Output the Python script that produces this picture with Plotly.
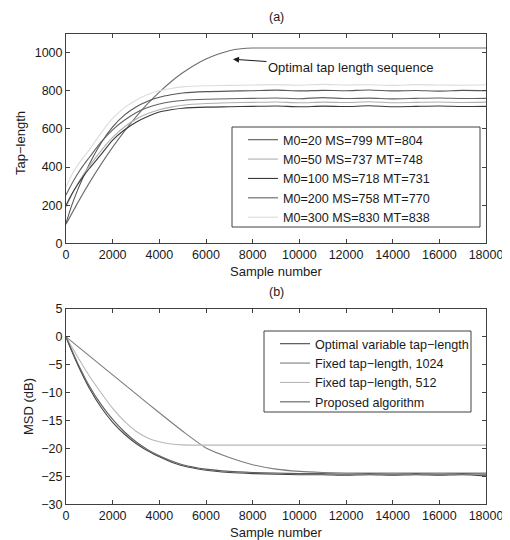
import plotly.graph_objects as go

# ---------------- Panel (a) data ----------------
t_a = [0, 250, 500, 750, 1000, 1500, 2000, 2500, 3000, 3500, 4000, 4500, 5000,
       6000, 7000, 8000, 9000, 10000, 11000, 12000, 13000, 14000, 15000, 16000, 17000, 18000]
m0_20 = [105, 200, 280, 350, 415, 525, 610, 672, 715, 745, 766, 779, 788,
         795, 798, 800, 803, 799, 802, 800, 804, 799, 801, 798, 802, 800]
m0_50 = [190, 255, 312, 362, 405, 485, 555, 610, 650, 680, 700, 714, 724,
         733, 737, 739, 741, 737, 740, 738, 742, 737, 739, 741, 738, 740]
m0_100 = [200, 258, 308, 352, 392, 465, 541, 594, 635, 665, 688, 700, 708,
          714, 716, 718, 720, 716, 719, 717, 721, 716, 718, 720, 717, 718]
m0_200 = [253, 312, 365, 410, 450, 530, 595, 645, 685, 712, 730, 742, 749,
          755, 758, 760, 762, 758, 764, 759, 761, 757, 760, 762, 759, 760]
m0_300 = [297, 360, 410, 452, 490, 578, 655, 710, 750, 780, 800, 812, 820,
          826, 828, 830, 832, 829, 833, 830, 831, 828, 832, 830, 829, 831]
t_opt = [0, 500, 1000, 1500, 2000, 2500, 3000, 3500, 4000, 4500, 5000, 5500,
         6000, 6500, 7000, 7500, 8000, 18000]
opt_seq = [100, 212, 317, 414, 504, 587, 663, 732, 793, 847, 894, 934,
           966, 991, 1010, 1020, 1024, 1024]
names_a = ["M0=20 MS=799 MT=804", "M0=50 MS=737 MT=748", "M0=100 MS=718 MT=731",
           "M0=200 MS=758 MT=770", "M0=300 MS=830 MT=838"]

# ---------------- Panel (b) data ----------------
t_b = [0, 250, 500, 1000, 1500, 2000, 2500, 3000, 3500, 4000, 4500, 5000, 6000,
       7000, 8000, 9000, 10000, 11000, 12000, 13000, 14000, 15000, 16000, 17000, 18000]
msd_opt = [0, -2.6, -5.0, -9.2, -12.6, -15.3, -17.4, -19.1, -20.4, -21.5, -22.4, -23.1, -23.9,
           -24.3, -24.5, -24.6, -24.7, -24.7, -24.8, -24.7, -24.8, -24.7, -24.8, -24.7, -24.9]
msd_512 = [0, -1.8, -3.6, -7.0, -10.0, -12.8, -15.1, -16.9, -18.1, -18.8, -19.2, -19.35, -19.4,
           -19.4, -19.4, -19.4, -19.4, -19.4, -19.4, -19.4, -19.4, -19.4, -19.4, -19.4, -19.4]
msd_prop = [0, -2.4, -4.7, -8.8, -12.1, -14.8, -17.0, -18.8, -20.2, -21.3, -22.2, -22.9, -23.7,
            -24.1, -24.3, -24.4, -24.5, -24.5, -24.6, -24.5, -24.6, -24.5, -24.6, -24.5, -24.6]
t_f = [0, 1000, 2000, 3000, 4000, 5000, 6000, 7000, 8000, 9000, 10000, 11000, 12000,
       13000, 14000, 15000, 16000, 17000, 18000]
msd_1024 = [0, -3.4, -6.8, -10.2, -13.6, -16.9, -19.9, -21.6, -22.9, -23.7, -24.1, -24.3, -24.4,
            -24.4, -24.4, -24.4, -24.4, -24.4, -24.4]
names_b = ["Optimal variable tap−length", "Fixed tap−length, 1024",
           "Fixed tap−length, 512", "Proposed algorithm"]
x_ticks = list(range(0, 18001, 2000))

W, H = 510, 540
OFF = 8  # page body margin offset
def px(x): return (x - OFF) / W
def py(y): return 1 - (y - OFF) / H

FONT = "Liberation Sans, Arial, sans-serif"
fig = go.Figure()

# panel (a)
fig.add_trace(go.Scatter(x=t_opt, y=opt_seq, mode="lines", showlegend=False,
                         line=dict(color="#6e6e6e", width=1.1, shape="spline", smoothing=0.5),
                         xaxis="x", yaxis="y"))
cols_a = ["#575757", "#b0b0b0", "#3a3a3a", "#626262", "#dcdcdc"]
for vals, nm, c in zip([m0_20, m0_50, m0_100, m0_200, m0_300], names_a, cols_a):
    fig.add_trace(go.Scatter(x=t_a, y=vals, mode="lines", name=nm, legend="legend",
                             line=dict(color=c, width=1.1, shape="spline", smoothing=0.6),
                             xaxis="x", yaxis="y"))

# panel (b)
cols_b = ["#474747", "#7c7c7c", "#b8b8b8", "#5e5e5e"]
series_b = [(t_b, msd_opt), (t_f, msd_1024), (t_b, msd_512), (t_b, msd_prop)]
for (tx, vals), nm, c in zip(series_b, names_b, cols_b):
    fig.add_trace(go.Scatter(x=tx, y=vals, mode="lines", name=nm, legend="legend2",
                             line=dict(color=c, width=1.1, shape="spline", smoothing=0.6),
                             xaxis="x2", yaxis="y2"))

axis_common = dict(showline=True, linecolor="#404040", linewidth=1, mirror="ticks",
                   ticks="inside", ticklen=4, tickcolor="#404040", showgrid=False,
                   zeroline=False, automargin=False,
                   tickfont=dict(size=12.5, color="#1a1a1a", family=FONT))
xdom = [px(66), px(486)]

def label(text, x, y, size=12.5, angle=0):
    return dict(text=text, xref="paper", yref="paper", x=px(x), y=py(y), showarrow=False,
                xanchor="center", yanchor="middle", textangle=angle, font=dict(size=size))

fig.update_layout(
    width=W, height=H, margin=dict(l=0, r=0, t=0, b=0, autoexpand=False),
    paper_bgcolor="white", plot_bgcolor="white",
    font=dict(family=FONT, color="#1a1a1a"),
    xaxis=dict(domain=xdom, range=[0, 18000], tickvals=x_ticks,
               ticktext=[str(v) for v in x_ticks], anchor="y", **axis_common),
    yaxis=dict(domain=[py(243.3), py(33.5)], range=[0, 1100], tickvals=list(range(0, 1001, 200)),
               anchor="x", **axis_common),
    xaxis2=dict(domain=xdom, range=[0, 18000], tickvals=x_ticks,
                ticktext=[str(v) for v in x_ticks], anchor="y2", **axis_common),
    yaxis2=dict(domain=[py(504.3), py(309)], range=[-30, 5], tickvals=list(range(-30, 6, 5)),
                anchor="x2", **axis_common),
    legend=dict(x=px(243), y=py(125), xanchor="left", yanchor="top",
                bgcolor="rgba(0,0,0,0)", borderwidth=0,
                font=dict(size=12.6, family=FONT, color="#1a1a1a")),
    legend2=dict(x=px(275), y=py(329), xanchor="left", yanchor="top",
                 bgcolor="rgba(0,0,0,0)", borderwidth=0,
                 font=dict(size=12.6, family=FONT, color="#1a1a1a")),
    shapes=[
        dict(type="rect", xref="paper", yref="paper", x0=px(232), x1=px(480),
             y0=py(227), y1=py(127), fillcolor="white", line=dict(color="#404040", width=1),
             layer="above"),
        dict(type="rect", xref="paper", yref="paper", x0=px(264), x1=px(471),
             y0=py(412), y1=py(331), fillcolor="white", line=dict(color="#404040", width=1),
             layer="above"),
    ],
    annotations=[
        label("(a)", 276, 17),
        label("(b)", 276, 292),
        label("Sample number", 276, 271, size=13),
        label("Sample number", 276, 532, size=13),
        label("Tap−length", 20, 143, size=13, angle=-90),
        label("MSD (dB)", 28, 407, size=13, angle=-90),
        dict(text="Optimal tap length sequence", x=7157, y=965, xref="x", yref="y",
             showarrow=True, arrowhead=2, arrowsize=1.2, arrowwidth=1, arrowcolor="#1a1a1a",
             axref="pixel", ayref="pixel", ax=118, ay=8, font=dict(size=13)),
    ],
)

fig.write_html("out.html")
